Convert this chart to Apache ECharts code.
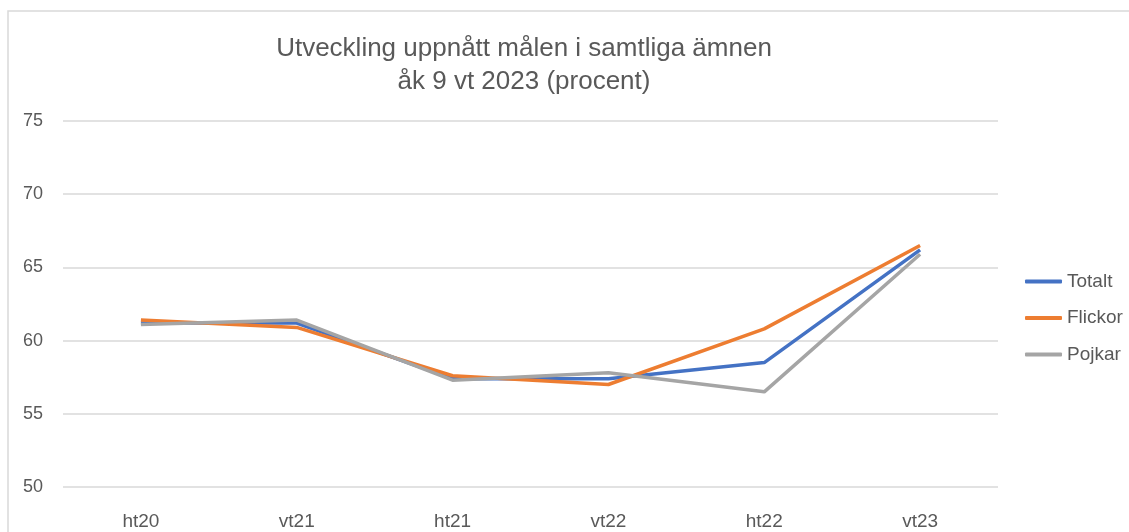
<!DOCTYPE html>
<html>
<head>
<meta charset="utf-8">
<script src="https://cdn.jsdelivr.net/npm/echarts@6/dist/echarts.min.js"></script>
<style>
  html, body { margin: 0; padding: 0; background: #fff; }
  #myEcharts { width: 1129px; height: 532px; }
</style>
</head>
<body>
<div id="myEcharts"></div>
<script>
const categories = ['ht20', 'vt21', 'ht21', 'vt22', 'ht22', 'vt23'];
const totalt = [61.2, 61.2, 57.4, 57.4, 58.5, 66.2];
const flickor = [61.4, 60.9, 57.6, 57.0, 60.8, 66.5];
const pojkar = [61.1, 61.4, 57.3, 57.8, 56.5, 65.9];

const chart = echarts.init(document.getElementById('myEcharts'));
const fontFamily = 'Liberation Sans, sans-serif';

const makeLine = (name, data, color) => ({
  name: name,
  type: 'line',
  data: data,
  symbol: 'none',
  lineStyle: { width: 3.5, color: color },
  itemStyle: { color: color }
});

chart.setOption({
  animation: false,
  graphic: [
    {
      type: 'rect',
      shape: { x: 8, y: 11, width: 1300, height: 700 },
      style: { fill: 'none', stroke: '#d9d9d9', lineWidth: 1.5 }
    }
  ],
  title: {
    text: 'Utveckling uppnått målen i samtliga ämnen\nåk 9 vt 2023 (procent)',
    left: 519,
    textAlign: 'center',
    top: 27,
    textStyle: {
      color: '#595959',
      fontSize: 26,
      fontWeight: 'normal',
      fontFamily: fontFamily,
      lineHeight: 33
    }
  },
  legend: {
    orient: 'vertical',
    left: 1020,
    top: 267,
    itemGap: 17.5,
    itemWidth: 37,
    itemHeight: 4,
    icon: 'roundRect',
    textStyle: { color: '#595959', fontSize: 19, fontFamily: fontFamily },
    data: ['Totalt', 'Flickor', 'Pojkar']
  },
  grid: { left: 63, right: 131, top: 121, bottom: 45, containLabel: false },
  xAxis: {
    type: 'category',
    data: categories,
    boundaryGap: true,
    axisLine: { show: false },
    axisTick: { show: false },
    axisLabel: { color: '#595959', fontSize: 19, fontFamily: fontFamily, margin: 25 }
  },
  yAxis: {
    type: 'value',
    min: 50,
    max: 75,
    interval: 5,
    axisLine: { show: false },
    axisTick: { show: false },
    axisLabel: { color: '#595959', fontSize: 18, fontFamily: fontFamily, margin: 20 },
    splitLine: { lineStyle: { color: '#d9d9d9', width: 1.5 } }
  },
  series: [
    makeLine('Totalt', totalt, '#4472C4'),
    makeLine('Flickor', flickor, '#ED7D31'),
    makeLine('Pojkar', pojkar, '#A5A5A5')
  ]
});
</script>
</body>
</html>
